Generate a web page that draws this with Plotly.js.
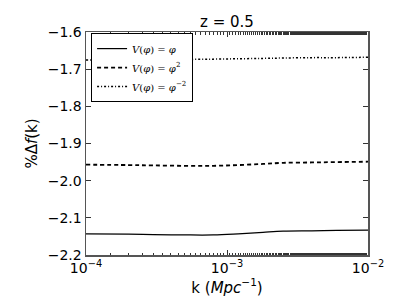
<!DOCTYPE html>
<html>
<head>
<script src="https://cdn.plot.ly/plotly-3.0.1.min.js"></script>
<style>html,body{margin:0;padding:0;background:#fff;}#chart{width:409px;height:307px;}</style>
</head>
<body>
<div id="chart"></div>
<script>
const kVals = [1e-4, 2e-4, 3e-4, 5e-4, 8e-4, 1.2e-3, 1.8e-3, 2.5e-3, 4e-3, 6e-3, 1e-2];
const seriesPhi = [-2.143, -2.144, -2.145, -2.146, -2.146, -2.143, -2.139, -2.136, -2.135, -2.134, -2.133];
const seriesPhi2 = [-1.957, -1.958, -1.959, -1.960, -1.960, -1.958, -1.955, -1.952, -1.951, -1.950, -1.949];
const seriesPhiM2 = [-1.675, -1.675, -1.675, -1.674, -1.673, -1.672, -1.671, -1.670, -1.669, -1.669, -1.668];
const names = [
  "<i>V</i>(<i>φ</i>) = <i>φ</i>",
  "<i>V</i>(<i>φ</i>) = <i>φ</i><sup>2</sup>",
  "<i>V</i>(<i>φ</i>) = <i>φ</i><sup>−2</sup>"
];
const xTickVals = [1e-4, 1e-3, 1e-2];
const xTickText = ["10<sup>−4</sup>", "10<sup>−3</sup>", "10<sup>−2</sup>"];
const yTickVals = [-2.2, -2.1, -2.0, -1.9, -1.8, -1.7, -1.6];
const yTickText = ["−2.2", "−2.1", "−2.0", "−1.9", "−1.8", "−1.7", "−1.6"];

const traces = [
  {x: kVals, y: seriesPhi, name: names[0], mode: 'lines', line: {color: 'black', width: 1.2, shape: 'spline'}},
  {x: kVals, y: seriesPhi2, name: names[1], mode: 'lines', line: {color: 'black', width: 1.8, dash: '4px,3px', shape: 'spline'}},
  {x: kVals, y: seriesPhiM2, name: names[2], mode: 'lines', line: {color: 'black', width: 1.5, dash: '2px,2px,1px,2px', shape: 'spline'}}
];

const layout = {
  width: 409, height: 307,
  margin: {l: 86, r: 41, t: 32, b: 52},
  paper_bgcolor: 'white', plot_bgcolor: 'white',
  font: {family: 'DejaVu Sans', color: 'black', size: 14},
  title: {text: 'z = 0.5', x: 0.555, xanchor: 'center', y: 0.929, yanchor: 'middle', font: {size: 15, family: 'DejaVu Sans'}},
  showlegend: true,
  legend: {x: 0.018, y: 0.995, xanchor: 'left', yanchor: 'top', bordercolor: 'black', borderwidth: 1, bgcolor: 'white',
           font: {family: 'DejaVu Serif', size: 10}, tracegroupgap: 0, itemwidth: 30},
  xaxis: {
    type: 'log', range: [-4, -2], tickvals: xTickVals, ticktext: xTickText,
    ticks: 'inside', ticklen: 5, tickcolor: '#333', mirror: 'allticks',
    showline: true, linecolor: '#555', linewidth: 1.5, showgrid: false, zeroline: false,
    tickfont: {size: 14},
    minor: {ticks: 'inside', ticklen: 2.5, tickcolor: '#333', showgrid: false},
    title: {text: 'k (<i>Mpc</i><sup>−1</sup>)', font: {size: 15}, standoff: 2}
  },
  yaxis: {
    range: [-2.2, -1.6], tickvals: yTickVals, ticktext: yTickText,
    ticks: 'inside', ticklen: 5, tickcolor: '#333', mirror: 'allticks',
    showline: true, linecolor: '#555', linewidth: 1.5, showgrid: false, zeroline: false,
    tickfont: {size: 14},
    title: {text: '%Δ<i>f</i>(k)', font: {size: 15}, standoff: 6}
  }
};

Plotly.newPlot('chart', traces, layout, {displayModeBar: false, staticPlot: true});
</script>
</body>
</html>
